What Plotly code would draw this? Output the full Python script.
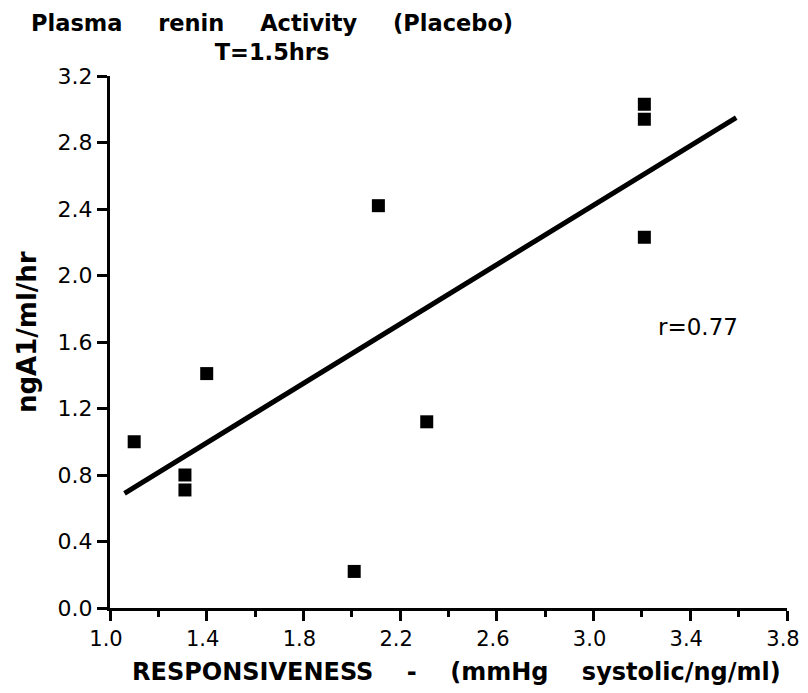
import plotly.graph_objects as go

# Data
responsiveness = [1.10, 1.31, 1.31, 1.40, 2.01, 2.11, 2.31, 3.21, 3.21, 3.21]
renin_activity = [1.00, 0.80, 0.71, 1.41, 0.22, 2.42, 1.12, 3.03, 2.94, 2.23]
fit_x = [1.06, 3.59]
fit_y = [0.69, 2.95]
x_ticks = [1.0, 1.4, 1.8, 2.2, 2.6, 3.0, 3.4, 3.8]
y_ticks = [0.0, 0.4, 0.8, 1.2, 1.6, 2.0, 2.4, 2.8, 3.2]
r_label = "r=0.77"

FONT = "DejaVu Sans, Liberation Sans, Arial, sans-serif"
NB = "\u00a0"
GAP_T = NB * 4 + "\u2009"
GAP_X = NB * 4

# Plot area in figure pixels (figure is offset 8px by page body margin)
L, R, T, B = 102, 779, 68, 600
W, H = 800, 685


def px(x):
    return (x - L) / (R - L)


def py(y):
    return (B - y) / (B - T)


fig = go.Figure()
fig.add_trace(go.Scatter(x=fit_x, y=fit_y, mode="lines",
                         line=dict(color="black", width=5), hoverinfo="skip",
                         showlegend=False))
fig.add_trace(go.Scatter(x=responsiveness, y=renin_activity, mode="markers",
                         marker=dict(symbol="square", size=13, color="black",
                                     line=dict(width=0)),
                         showlegend=False))

fig.update_layout(
    width=W, height=H,
    margin=dict(l=L, r=W - R, t=T, b=H - B, autoexpand=False),
    paper_bgcolor="white", plot_bgcolor="white",
    font=dict(family=FONT, color="black"),
    xaxis=dict(range=[1.0, 3.8], tickvals=x_ticks, ticktext=[f"{v:.1f}" for v in x_ticks],
               ticks="outside", ticklen=10, tickwidth=3, tickcolor="black",
               minor=dict(dtick=0.2, tick0=1.0, ticks="outside", ticklen=6, tickwidth=3,
                          tickcolor="black", showgrid=False),
               showline=True, linecolor="black", linewidth=3, showgrid=False, zeroline=False,
               tickfont=dict(size=21, family=FONT), ticklabelshift=-4, automargin=False),
    yaxis=dict(range=[0, 3.2], tickvals=y_ticks, ticktext=[f"{v:.1f}" for v in y_ticks],
               ticks="outside", ticklen=10, tickwidth=3, tickcolor="black",
               showline=True, linecolor="black", linewidth=3, showgrid=False, zeroline=False,
               tickfont=dict(size=22, family=FONT), automargin=False),
)

# r value
fig.add_annotation(x=3.43, y=1.69, xref="x", yref="y", text=r_label,
                   showarrow=False, font=dict(family=FONT, size=23, color="black"))

# Two-line title as a single text block
title = ("<b>Plasma" + GAP_T + "renin" + GAP_T + "Activity" + GAP_T + "(Placebo)<br>"
         "T=1.5hrs</b>")
fig.add_annotation(x=px(264), y=py(29), xref="paper", yref="paper", text=title,
                   showarrow=False, xanchor="center", yanchor="middle", align="center",
                   font=dict(size=22.5, family=FONT, color="black"))

# Axis titles
xtitle = "<b>RESPONSIVENESS" + GAP_X + "-" + GAP_X + "(mmHg" + GAP_X + "systolic/ng/ml)</b>"
fig.add_annotation(x=px(448), y=py(664), xref="paper", yref="paper", text=xtitle,
                   showarrow=False, xanchor="center", yanchor="middle",
                   font=dict(size=24, family=FONT, color="black"))
fig.add_annotation(x=px(19), y=py(324), xref="paper", yref="paper", text="<b>ngA1/ml/hr</b>",
                   showarrow=False, xanchor="center", yanchor="middle", textangle=-90,
                   font=dict(size=26, family=FONT, color="black"))

fig.write_html("out.html")
